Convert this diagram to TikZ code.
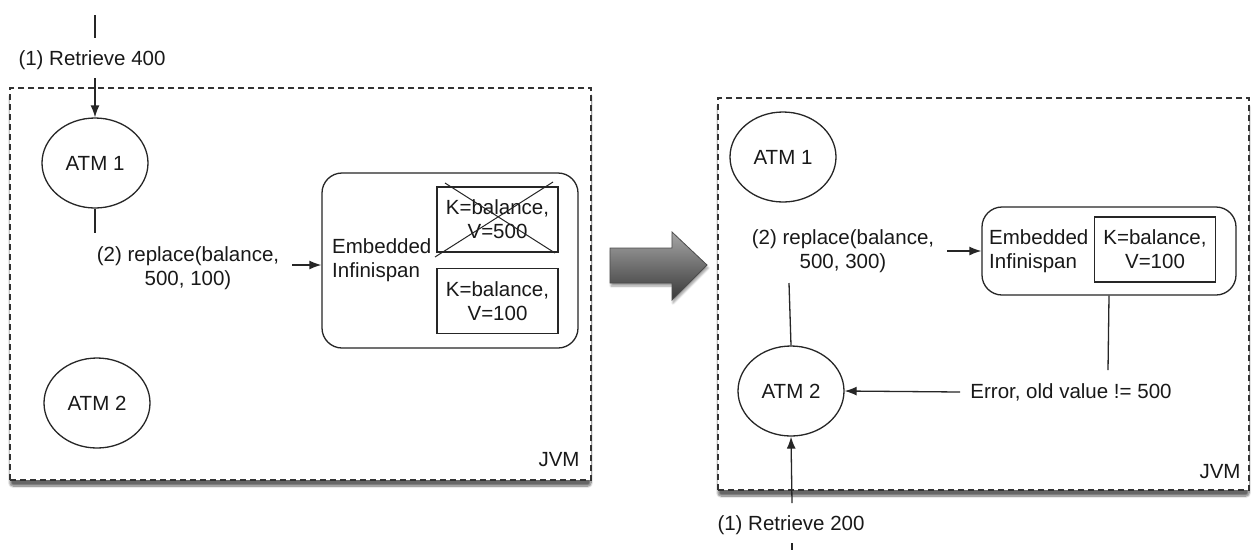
\documentclass[tikz,border=0pt]{standalone}
\usepackage{fontspec}
\setmainfont{Liberation Sans}
\usetikzlibrary{shapes.geometric,arrows.meta,shadows,shadows.blur}
\begin{document}
\begin{tikzpicture}[x=1pt,y=-1pt,
  font=\fontsize{20.5}{24}\selectfont,
  jvm/.style={rectangle, draw=black!80, dash pattern=on 6pt off 4pt, line width=1.5pt, fill=white,
    blur shadow={shadow xshift=0pt, shadow yshift=-6pt, shadow blur steps=10, shadow blur extra rounding=3pt, shadow opacity=60}},
  atm/.style={ellipse, draw=black!85, line width=1.3pt, minimum width=106pt, minimum height=90pt, inner sep=0pt, text=black!90},
  cache/.style={rectangle, rounded corners=20pt, draw=black!85, line width=1.3pt},
  entry/.style={rectangle, draw=black!85, line width=1.3pt, minimum width=121pt, minimum height=65pt, align=center, inner sep=0pt, text=black!90},
  conn/.style={line width=1.3pt, draw=black!85},
  arr/.style={conn, -{Latex[length=12pt,width=9pt]}},
  lbl/.style={align=center, text=black!90, inner sep=0pt},
  lblL/.style={align=left, text=black!90, inner sep=0pt},
  bigarrow/.style={top color=black!35, bottom color=black!78, draw=black!70, line width=0.8pt,
    blur shadow={shadow xshift=1pt, shadow yshift=-3pt, shadow blur steps=6, shadow opacity=40}}
]
\useasboundingbox (0,0) rectangle (1252,550);

% ---------- left panel ----------
\node[jvm, minimum width=581pt, minimum height=392pt] (jvmL) at (300.5,284) {};
\node[lbl] (jvmLtxt) at (559,460) {JVM};

\node[atm] (atm1L) at (95,163) {ATM 1};
\node[atm] (atm2L) at (97,403) {ATM 2};

\coordinate (topL) at (95,15);
\node[lbl] (r400) at (92,60) {(1) Retrieve 400};
\draw[conn] (topL) -- (95,38);
\coordinate (r400s) at (95,78);
\draw[arr] (r400s) -- (atm1L.north);

\coordinate (repLend) at (95,233);
\draw[conn] (atm1L.south) -- (repLend);
\node[lbl] (repL) at (188,268) {(2) replace(balance,\\ 500, 100)};

\node[cache, minimum width=256pt, minimum height=175pt] (embL) at (450,260.5) {};
\node[lblL, anchor=west] (embLtxt) at (332,260) {Embedded\\Infinispan};
\node[entry] (oldL) at (497.5,219.5) {K=balance,\\V=500};
\node[entry] (newL) at (497.5,301) {K=balance,\\V=100};
\draw[line width=1pt, black!85] (435,257) -- (553,182);
\draw[line width=1pt, black!85] (445,183) -- (555,253);

\coordinate (repLarr) at (292,265);
\draw[arr] (repLarr) -- (embL.west |- repLarr);

% ---------- big arrow ----------
\shade[bigarrow] (610,248) -- (672,248) -- (672,232) -- (707,265) -- (672,300) -- (672,283) -- (610,283) -- cycle;

% ---------- right panel ----------
\node[jvm, minimum width=531pt, minimum height=392pt] (jvmR) at (983.5,294) {};
\node[lbl] (jvmRtxt) at (1220,472) {JVM};

\node[atm] (atm1R) at (783,157) {ATM 1};
\node[atm] (atm2R) at (791,391) {ATM 2};

\node[lbl] (repR) at (843,251) {(2) replace(balance,\\ 500, 300)};
\coordinate (repRend) at (789,283);
\draw[conn] (atm2R.north) -- (repRend);

\node[cache, minimum width=254pt, minimum height=88pt] (embR) at (1109,251) {};
\node[lblL, anchor=west] (embRtxt) at (989,251) {Embedded\\Infinispan};
\node[entry] (entR) at (1155,249.5) {K=balance,\\V=100};

\coordinate (repRarr) at (947,251);
\draw[arr] (repRarr) -- (embR.west);

\coordinate (errTop) at (1108,370);
\draw[conn] (embR.south) -- (errTop);
\node[lbl] (err) at (1071,392) {Error, old value != 500};
\coordinate (errS) at (960,392);
\draw[arr] (errS) -- (atm2R.east);

\node[lbl] (r200) at (791,525) {(1) Retrieve 200};
\coordinate (r200n) at (792,503);
\draw[arr] (r200n) -- (atm2R.south);
\coordinate (botR) at (792,550);
\draw[conn] (792,543) -- (botR);

\end{tikzpicture}
\end{document}
